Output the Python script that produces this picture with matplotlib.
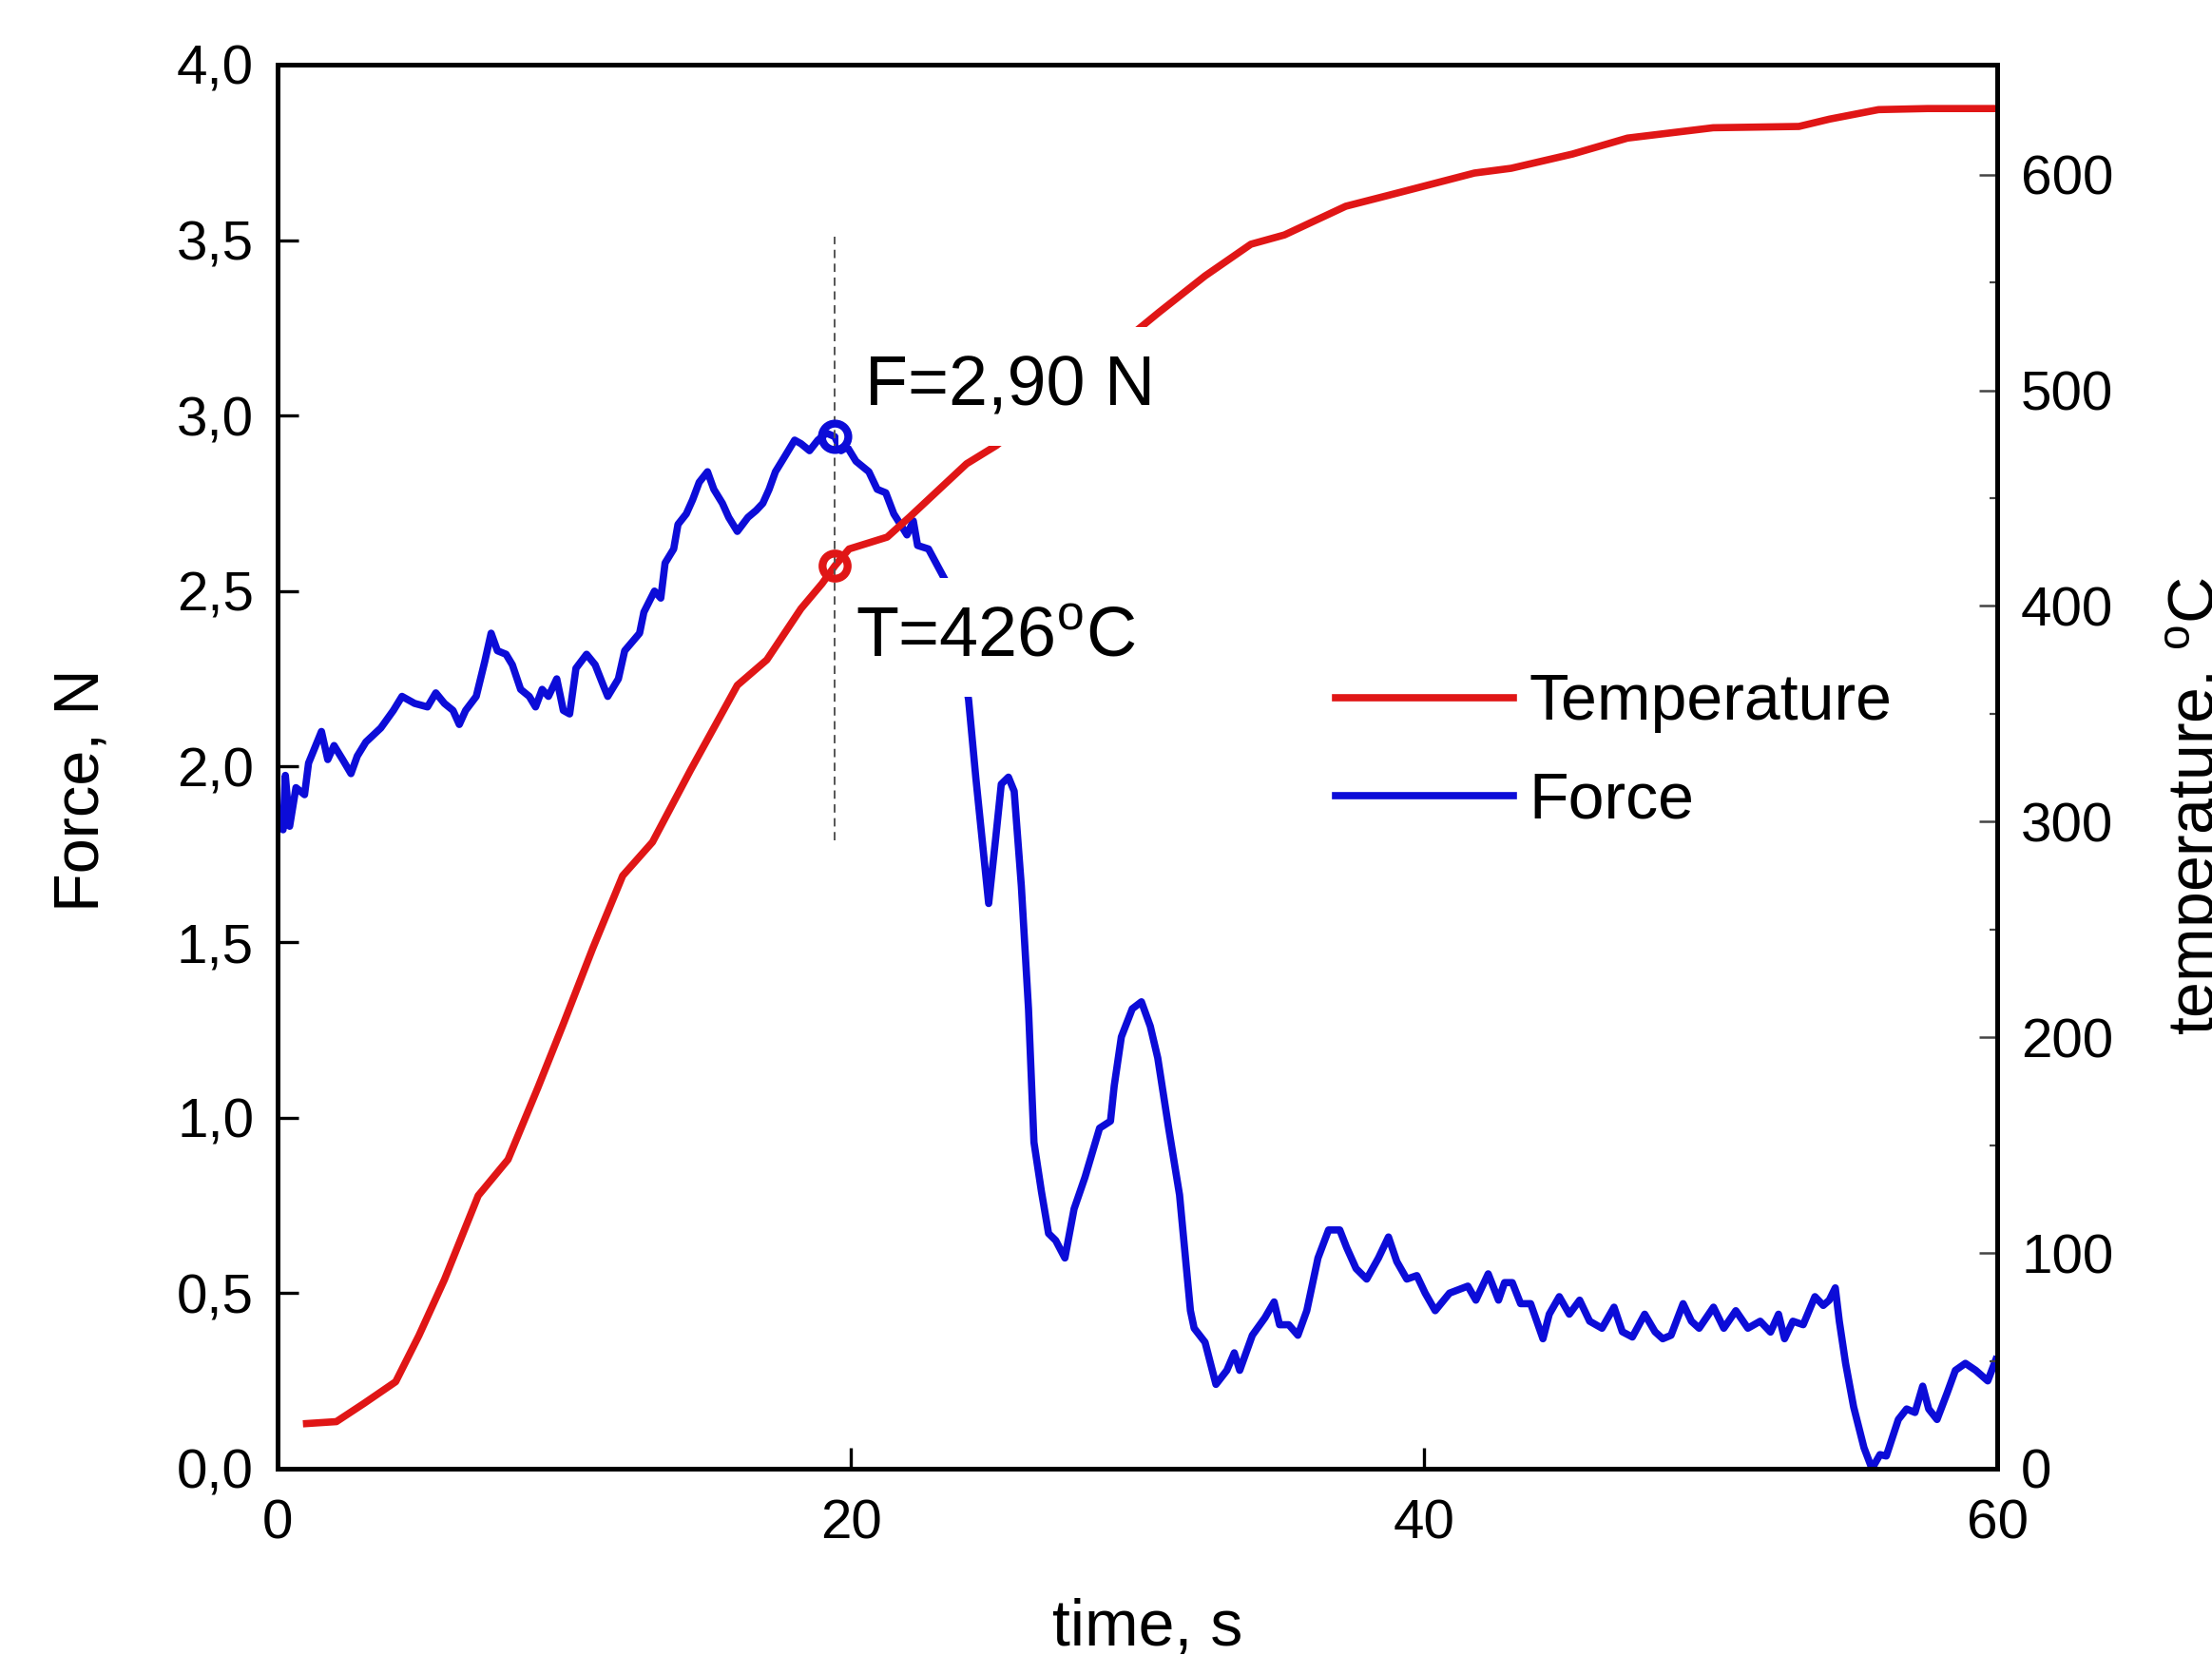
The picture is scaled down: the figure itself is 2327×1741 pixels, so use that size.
import matplotlib
matplotlib.use('Agg')
import matplotlib.pyplot as plt
from matplotlib.ticker import MultipleLocator

plt.rcParams['font.family'] = ['Liberation Sans', 'DejaVu Sans']
plt.rcParams['mathtext.fontset'] = 'custom'
plt.rcParams['mathtext.rm'] = 'Liberation Sans'

# temperature curve, right axis (s, degC)
temp_t = [1.01, 2.05, 3.01, 4.12, 4.93, 5.82, 7.0, 8.04, 9.08, 9.97, 11.0, 12.04,
          13.08, 14.41, 16.04, 17.07, 18.26, 19.0, 19.44, 19.94, 21.27, 22.05,
          23.04, 24.04, 25.08, 30.75, 32.36, 33.96, 35.13, 37.27, 38.77, 41.76,
          43.04, 45.18, 47.1, 50.09, 53.08, 54.15, 55.86, 57.57, 60.0]
temp_val = [20.9, 21.8, 30.2, 40.3, 61.7, 87.6, 126.6, 143.3, 176.6, 206.2, 241.4, 274.9,
            290.5, 323.9, 363.2, 375.0, 398.7, 410.4, 418.5, 426.4, 431.9, 441.2,
            453.5, 465.9, 474.4, 536.1, 553.0, 567.7, 572.0, 585.3, 590.4, 600.7,
            602.9, 609.5, 616.9, 621.7, 622.3, 625.7, 630.1, 630.6, 630.6]

# force curve, left axis (s, N)
force_t = [0.1, 0.19, 0.27, 0.42, 0.64, 0.94, 1.08, 1.53, 1.75, 1.97, 2.27, 2.56, 2.78,
           3.08, 3.6, 4.04, 4.34, 4.78, 5.23, 5.52, 5.82, 6.12, 6.34, 6.56, 6.93, 7.23,
           7.45, 7.67, 7.97, 8.19, 8.48, 8.78, 9.0, 9.23, 9.45, 9.74, 9.97, 10.19, 10.41,
           10.78, 11.08, 11.37, 11.52, 11.89, 12.11, 12.63, 12.78, 13.15, 13.37, 13.52,
           13.82, 13.97, 14.26, 14.48, 14.71, 15.0, 15.22, 15.52, 15.74, 16.04, 16.41,
           16.7, 16.93, 17.15, 17.37, 17.67, 18.04, 18.26, 18.56, 18.85, 19.15, 19.44,
           19.66, 19.88, 20.18, 20.63, 20.92, 21.22, 21.5, 21.81, 21.96, 22.18, 22.33,
           22.71, 23.5, 24.11, 24.36, 24.81, 25.06, 25.25, 25.5, 25.7, 25.95, 26.2,
           26.39, 26.65, 26.9, 27.15, 27.47, 27.79, 28.17, 28.68, 29.06, 29.19, 29.44,
           29.82, 30.14, 30.45, 30.71, 31.09, 31.47, 31.85, 31.98, 32.36, 32.74, 33.12,
           33.38, 33.57, 34.01, 34.45, 34.77, 34.96, 35.28, 35.6, 35.91, 36.3, 36.67,
           37.06, 37.3, 37.63, 38.0, 38.41, 38.76, 39.05, 39.4, 39.75, 40.04, 40.39,
           40.89, 41.53, 41.81, 42.24, 42.6, 42.81, 43.08, 43.37, 43.72, 44.15, 44.37,
           44.72, 45.07, 45.43, 45.78, 46.21, 46.63, 46.92, 47.27, 47.7, 48.06, 48.33,
           48.62, 49.04, 49.33, 49.6, 50.1, 50.46, 50.88, 51.3, 51.73, 52.09, 52.37,
           52.58, 52.87, 53.23, 53.64, 53.93, 54.14, 54.35, 54.49, 54.71, 54.99, 55.35,
           55.63, 55.91, 56.13, 56.55, 56.84, 57.13, 57.4, 57.61, 57.9, 58.25, 58.54,
           58.89, 59.25, 59.67, 59.95]
force_val = [1.85, 1.82, 1.975, 1.83, 1.94, 1.92, 2.01, 2.10, 2.02, 2.06, 2.02, 1.98, 2.03,
             2.07, 2.11, 2.16, 2.20, 2.18, 2.17, 2.21, 2.18, 2.16, 2.12, 2.16, 2.20, 2.30,
             2.38, 2.33, 2.32, 2.29, 2.22, 2.20, 2.17, 2.22, 2.20, 2.25, 2.16, 2.15, 2.28,
             2.32, 2.29, 2.23, 2.20, 2.25, 2.33, 2.38, 2.44, 2.50, 2.48, 2.58,
             2.62, 2.69, 2.72, 2.76, 2.81, 2.84, 2.79, 2.75, 2.71, 2.67, 2.71,
             2.73, 2.75, 2.79, 2.84, 2.88, 2.93, 2.92, 2.90, 2.93, 2.95, 2.94,
             2.90, 2.91, 2.87, 2.84, 2.79, 2.78, 2.72, 2.68, 2.66, 2.70, 2.63,
             2.62, 2.50, 2.19, 1.97, 1.61, 1.80, 1.95, 1.97, 1.93, 1.66, 1.31,
             0.93, 0.79, 0.67, 0.65, 0.60, 0.74, 0.83, 0.97, 0.99, 1.09, 1.23,
             1.31, 1.33, 1.26, 1.17, 0.97, 0.78, 0.45, 0.40, 0.36, 0.24, 0.28,
             0.33, 0.28, 0.38, 0.43, 0.475, 0.41, 0.41, 0.38, 0.45, 0.60, 0.68,
             0.68, 0.63, 0.57, 0.54, 0.60, 0.66, 0.59, 0.54, 0.55, 0.50, 0.45,
             0.50, 0.52, 0.48, 0.555, 0.48, 0.53, 0.53, 0.47, 0.47, 0.37, 0.44,
             0.49, 0.44, 0.48, 0.42, 0.40, 0.46, 0.39, 0.375, 0.44, 0.39, 0.37,
             0.38, 0.47, 0.42, 0.40, 0.46, 0.40, 0.45, 0.40, 0.42, 0.389, 0.44,
             0.37, 0.42, 0.41, 0.49, 0.465, 0.48, 0.515, 0.42, 0.30, 0.176, 0.06,
             0.0, 0.04, 0.036, 0.14, 0.17, 0.16, 0.235, 0.17, 0.14, 0.215, 0.28,
             0.30, 0.28, 0.25, 0.31]

# marked point
mark_t = 19.44
mark_force = 2.94
mark_temp = 418.5
guide_force = [1.79, 3.51]

force_ticks = [0, 0.5, 1.0, 1.5, 2.0, 2.5, 3.0, 3.5, 4.0]
force_ticklabels = ['0,0', '0,5', '1,0', '1,5', '2,0', '2,5', '3,0', '3,5', '4,0']
time_ticks = [0, 20, 40, 60]
temp_ticks = [0, 100, 200, 300, 400, 500, 600]

red = '#e01616'
blue = '#0c0cd8'

fig = plt.figure(figsize=(23.27, 17.41), dpi=100)
ax1 = fig.add_axes([0.1255, 0.1126, 0.7774, 0.8484])
ax2 = ax1.twinx()

l_force, = ax1.plot(force_t, force_val, color=blue, lw=5.5, label='Force')
l_temp, = ax2.plot(temp_t, temp_val, color=red, lw=5.5, label='Temperature')

ax1.set_xlim(0, 60)
ax1.set_ylim(0, 4)
ax2.set_ylim(0, 651)

ax1.set_xticks(time_ticks)
ax1.set_yticks(force_ticks)
ax1.set_yticklabels(force_ticklabels)
ax2.set_yticks(temp_ticks)
ax2.yaxis.set_minor_locator(MultipleLocator(50))

for ax in (ax1, ax2):
    for sp in ax.spines.values():
        sp.set_linewidth(3.5)

ax1.tick_params(axis='both', direction='in', length=16, width=2.4, labelsize=42, pad=18,
                top=False, right=False)
ax1.tick_params(axis='x', pad=23)
ax2.tick_params(axis='y', which='major', direction='in', length=14, width=1.8,
                color='#444444', labelsize=42, pad=18)
ax2.tick_params(axis='y', which='minor', direction='in', length=6, width=1.6, color='#444444')

ax1.set_xlabel('time, s', fontsize=49)
ax1.xaxis.set_label_coords(0.506, -0.092)
ax1.set_ylabel('Force, N', fontsize=48)
ax1.yaxis.set_label_coords(-0.0967, 0.483)
ax2.set_ylabel(r'temperature, $^{\mathrm{o}}$C', fontsize=49)
ax2.yaxis.set_label_coords(1.097, 0.472)

# white boxes behind the annotations hide parts of the curves
box = dict(boxstyle='square,pad=0.38', fc='white', ec='none')
ax2.text(20.5, 3.03, 'F=2,90 N', transform=ax1.transData, fontsize=53,
         va='baseline', ha='left', bbox=box, zorder=4)
ax2.text(20.17, 2.315, r'T=426$^{\mathrm{o}}$C', transform=ax1.transData, fontsize=53,
         va='baseline', ha='left', bbox=box, zorder=4)

ax2.plot([mark_t, mark_t], guide_force, transform=ax1.transData, color='#555555',
         lw=1.4, ls=(0, (4.5, 3)), zorder=5)
ax2.plot([mark_t], [mark_force], 'o', transform=ax1.transData, mfc='none', mec=blue,
         ms=20, mew=6, zorder=6)
ax2.plot([mark_t], [mark_temp], 'o', mfc='none', mec=red, ms=19, mew=6, zorder=6)

ax2.legend(handles=[l_temp, l_force], loc='upper left', bbox_to_anchor=(0.615, 0.567),
           frameon=False, fontsize=49, handlelength=2.75, handletextpad=0.24,
           labelspacing=0.58, borderpad=0, borderaxespad=0)

fig.savefig('out.png', dpi=100)
